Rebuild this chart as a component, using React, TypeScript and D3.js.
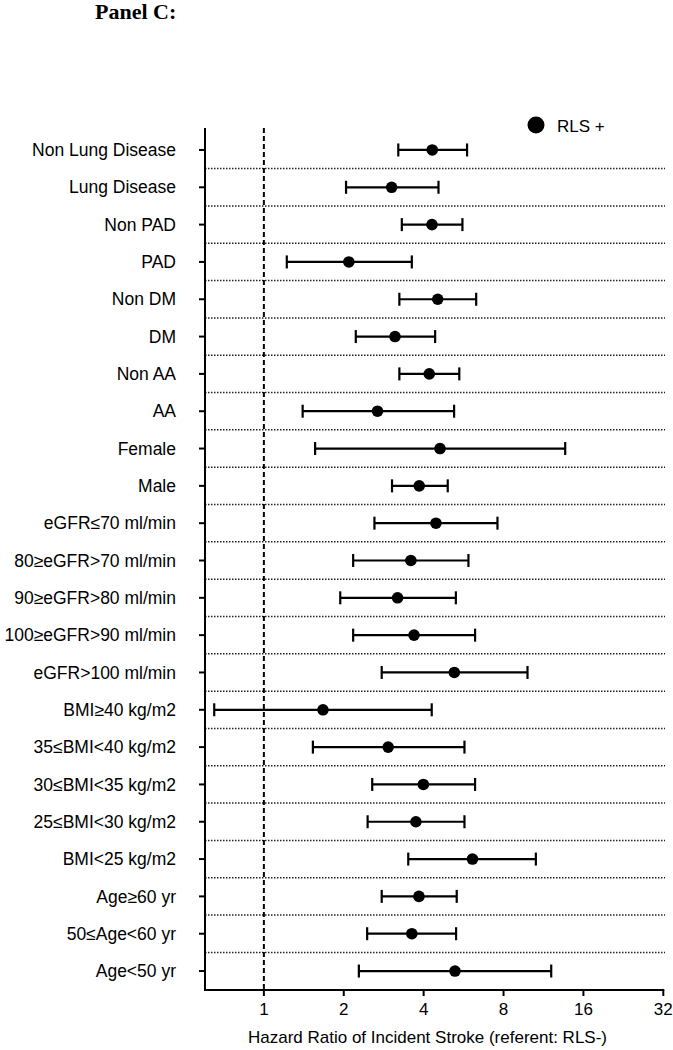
import React from "react";
import * as d3 from "d3";

const categories = [
  "Non Lung Disease", "Lung Disease", "Non PAD", "PAD", "Non DM", "DM",
  "Non AA", "AA", "Female", "Male", "eGFR≤70 ml/min", "80≥eGFR>70 ml/min",
  "90≥eGFR>80 ml/min", "100≥eGFR>90 ml/min", "eGFR>100 ml/min",
  "BMI≥40 kg/m2", "35≤BMI<40 kg/m2", "30≤BMI<35 kg/m2", "25≤BMI<30 kg/m2",
  "BMI<25 kg/m2", "Age≥60 yr", "50≤Age<60 yr", "Age<50 yr",
];
const hazardRatio = [
  4.31, 3.03, 4.30, 2.09, 4.52, 3.12, 4.20, 2.68, 4.61, 3.85, 4.45, 3.58,
  3.19, 3.68, 5.22, 1.67, 2.94, 3.99, 3.74, 6.11, 3.84, 3.61, 5.25,
];
const lowerCI = [
  3.21, 2.04, 3.31, 1.22, 3.24, 2.22, 3.24, 1.40, 1.56, 3.04, 2.61, 2.17,
  1.94, 2.17, 2.78, 0.65, 1.53, 2.56, 2.46, 3.50, 2.78, 2.45, 2.28,
];
const upperCI = [
  5.83, 4.55, 5.60, 3.61, 6.31, 4.42, 5.45, 5.21, 13.66, 4.93, 7.59, 5.90,
  5.29, 6.25, 9.85, 4.29, 5.70, 6.25, 5.70, 10.59, 5.33, 5.30, 12.10,
];
const xTicks = [1, 2, 4, 8, 16, 32];

const W = 673;
const H = 1050;
const font = "'Liberation Sans', Arial, Helvetica, sans-serif";

export default function App() {
  const x = d3.scaleLog().base(2).domain([0.6, 32]).range([205, 663.3]);
  const y = d3.scaleBand<string>().domain(categories).range([131.3, 989.7]);
  const yc = (c: string) => (y(c) as number) + y.bandwidth() / 2;
  const axisY = 990;
  const axisX = 205;
  const cap = 6.5;

  return (
    <svg
      width={W}
      height={H}
      style={{ position: "absolute", left: 0, top: 0, display: "block", background: "#fff" }}
    >
      <text x={95} y={19} fontFamily="'Liberation Serif', 'Times New Roman', serif" fontWeight="bold" fontSize={22} fill="#000">
        Panel C:
      </text>

      {/* dotted separators */}
      {categories.slice(1).map((c) => (
        <line
          key={"sep" + c}
          x1={axisX}
          x2={665}
          y1={y(c) as number}
          y2={y(c) as number}
          stroke="#222"
          strokeWidth={1.5}
          strokeDasharray="1.5,1.5"
        />
      ))}

      {/* reference line at 1 */}
      <line x1={x(1)} x2={x(1)} y1={128} y2={axisY} stroke="#000" strokeWidth={2} strokeDasharray="5,3" />

      {/* y axis */}
      <line x1={axisX} x2={axisX} y1={128} y2={axisY + 1} stroke="#000" strokeWidth={2} />
      {categories.map((c) => (
        <g key={"yt" + c}>
          <line x1={axisX - 6} x2={axisX} y1={yc(c)} y2={yc(c)} stroke="#000" strokeWidth={2} />
          <text
            x={176}
            y={yc(c)}
            dy="0.35em"
            textAnchor="end"
            fontFamily={font}
            fontSize={17.5}
            fill="#000"
          >
            {c}
          </text>
        </g>
      ))}

      {/* x axis */}
      <line x1={axisX - 1} x2={x(32) + 1} y1={axisY} y2={axisY} stroke="#000" strokeWidth={2} />
      {xTicks.map((t) => (
        <g key={"xt" + t}>
          <line x1={x(t)} x2={x(t)} y1={axisY} y2={axisY + 6} stroke="#000" strokeWidth={2} />
          <text x={x(t)} y={1015} textAnchor="middle" fontFamily={font} fontSize={17} fill="#000">
            {t}
          </text>
        </g>
      ))}
      <text x={(248 + 607) / 2} y={1043} textAnchor="middle" fontFamily={font} fontSize={17} fill="#000">
        Hazard Ratio of Incident Stroke (referent: RLS-)
      </text>

      {/* error bars and points */}
      {categories.map((c, i) => {
        const cy = yc(c);
        const x0 = x(lowerCI[i]);
        const x1 = x(upperCI[i]);
        return (
          <g key={"pt" + c}>
            <line x1={x0} x2={x1} y1={cy} y2={cy} stroke="#000" strokeWidth={2.2} />
            <line x1={x0} x2={x0} y1={cy - cap} y2={cy + cap} stroke="#000" strokeWidth={2.2} />
            <line x1={x1} x2={x1} y1={cy - cap} y2={cy + cap} stroke="#000" strokeWidth={2.2} />
            <circle cx={x(hazardRatio[i])} cy={cy} r={5.8} fill="#000" />
          </g>
        );
      })}

      {/* legend */}
      <circle cx={536} cy={125} r={8.5} fill="#000" />
      <text x={557} y={131.5} fontFamily={font} fontSize={17} fill="#000">
        RLS +
      </text>
    </svg>
  );
}
